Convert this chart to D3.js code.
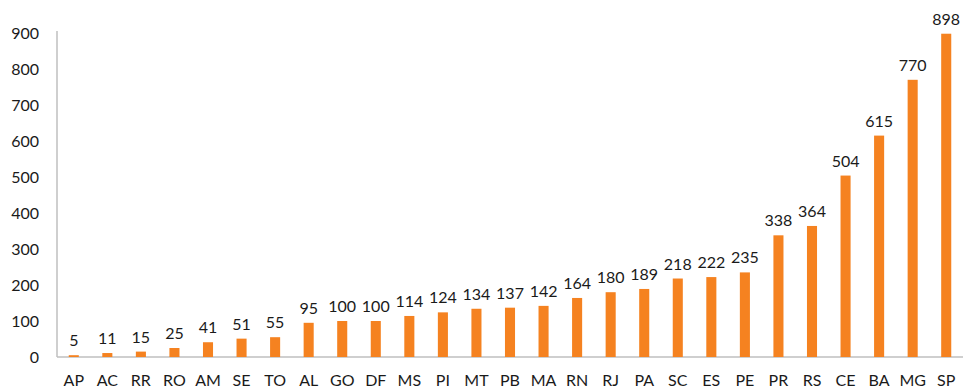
<!DOCTYPE html>
<html><head><meta charset="utf-8">
<script src="https://cdn.jsdelivr.net/npm/d3@7"></script>
<style>
html,body{margin:0;padding:0;background:#fff;}
svg text{font-family:"Lato","Open Sans",sans-serif;fill:#1a1a1a;}
</style></head>
<body><svg id="c" width="965" height="388"></svg>
<script>
const categories = ["AP","AC","RR","RO","AM","SE","TO","AL","GO","DF","MS","PI","MT","PB","MA","RN","RJ","PA","SC","ES","PE","PR","RS","CE","BA","MG","SP"];
const values = [5,11,15,25,41,51,55,95,100,100,114,124,134,137,142,164,180,189,218,222,235,338,364,504,615,770,898];
const yTicks = [0,100,200,300,400,500,600,700,800,900];

const svg = d3.select("#c");
const m = {left:57, right:2, top:33, bottom:31};
const W = 965, H = 388;
const x = d3.scaleBand().domain(categories).range([m.left, W - m.right]).paddingInner(0.7).paddingOuter(0.35);
const y = d3.scaleLinear().domain([0,900]).range([H - m.bottom, m.top]);

// axes lines
svg.append("line").attr("x1", m.left).attr("x2", m.left).attr("y1", 31).attr("y2", y(0))
  .attr("stroke","#bfbfbf").attr("stroke-width",1.5);
svg.append("line").attr("x1", m.left).attr("x2", W - 2).attr("y1", y(0)).attr("y2", y(0))
  .attr("stroke","#bfbfbf").attr("stroke-width",1.5);

// y tick labels
svg.append("g").selectAll("text").data(yTicks).join("text")
  .attr("x", 39).attr("y", d => y(d)).attr("dy","0.35em")
  .attr("text-anchor","end").attr("font-size","16px").text(d => d);

// bars
svg.append("g").selectAll("rect").data(values).join("rect")
  .attr("x",(d,i)=>x(categories[i])).attr("width",x.bandwidth())
  .attr("y",d=>y(d)).attr("height",d=>y(0)-y(d))
  .attr("fill","#f58220");

// value labels
svg.append("g").selectAll("text").data(values).join("text")
  .attr("x",(d,i)=>x(categories[i])+x.bandwidth()/2).attr("y",d=>y(d)-9)
  .attr("text-anchor","middle").attr("font-size","16px").text(d=>d);

// category labels
svg.append("g").selectAll("text").data(categories).join("text")
  .attr("x",d=>x(d)+x.bandwidth()/2).attr("y",380).attr("dy","0.35em")
  .attr("text-anchor","middle").attr("font-size","16px").text(d=>d);
</script></body></html>
